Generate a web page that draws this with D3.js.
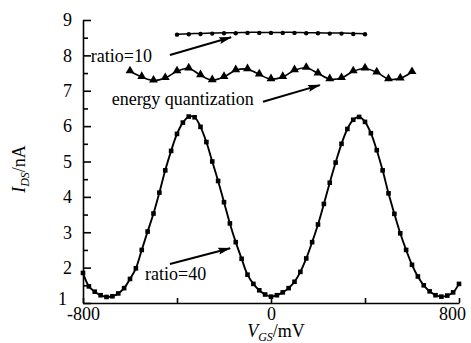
<!DOCTYPE html>
<html><head><meta charset="utf-8">
<script src="https://cdn.jsdelivr.net/npm/d3@7"></script>
<style>
body{margin:0;background:#fff}
svg{display:block}
</style>
</head><body>
<svg id="c" width="471" height="343"></svg>
<script>
// ratio=40 (squares)
const vgs40 = [-800,-775,-750,-725,-700,-675,-650,-625,-600,-575,-550,-525,-500,-475,-450,-425,-400,-375,-350,-325,-300,-275,-250,-225,-200,-175,-150,-125,-100,-75,-50,-25,0,
  25,50,75,100,125,150,175,200,225,250,275,300,325,350,375,400,425,450,475,500,525,550,575,600,625,650,675,700,725,750,775,800];
const ids40 = [1.85,1.47,1.32,1.22,1.17,1.19,1.27,1.42,1.68,1.98,2.50,3.02,3.53,4.12,4.75,5.30,5.78,6.10,6.27,6.25,5.98,5.55,5.00,4.45,3.85,3.25,2.72,2.25,1.80,1.54,1.36,1.24,1.18,
  1.22,1.30,1.42,1.60,1.88,2.26,2.72,3.22,3.80,4.40,4.97,5.50,5.92,6.18,6.26,6.12,5.80,5.32,4.75,4.10,3.52,2.97,2.50,2.08,1.75,1.50,1.33,1.22,1.18,1.21,1.30,1.54];
// energy quantization (triangles)
const vgsEQ = [-600,-550,-500,-450,-400,-350,-300,-250,-200,-150,-100,-50,0,50,100,150,200,250,300,350,400,450,500,550,600];
const idsEQ = [7.55,7.39,7.29,7.36,7.55,7.63,7.44,7.30,7.39,7.58,7.61,7.46,7.33,7.39,7.58,7.65,7.49,7.33,7.36,7.55,7.63,7.52,7.33,7.35,7.53];
// ratio=10 (dots)
const vgs10 = [-400,-350,-300,-250,-200,-150,-100,-50,0,50,100,150,200,250,300,350,400];
const ids10 = [8.60,8.61,8.62,8.63,8.64,8.64,8.65,8.65,8.65,8.65,8.65,8.64,8.64,8.63,8.63,8.62,8.61];

const xTicks = [-800,-400,0,400,800];
const xTickLabels = ["-800","","0","","800"];
const yTicks = [1,2,3,4,5,6,7,8,9];
const yMinor = [1.5,2.5,3.5,4.5,5.5,6.5,7.5,8.5];

// annotations in data units
const annoText = [
  {t:"ratio=10", x:-767, y:7.81},
  {t:"energy quantization", x:-678, y:6.59},
  {t:"ratio=40", x:-536, y:1.65}
];
const annoArrows = [
  {x1:-430, y1:8.01, x2:-170, y2:8.51},
  {x1:-34, y1:6.69, x2:208, y2:7.16},
  {x1:-430, y1:2.10, x2:-174, y2:2.55}
];

const FONT = "'Liberation Serif','DejaVu Serif','Times New Roman',serif";
const svg = d3.select("#c");
const x = d3.scaleLinear().domain([-800,800]).range([83,459]);
const y = d3.scaleLinear().domain([1,9]).range([303,20]);

svg.append("defs").append("marker")
  .attr("id","ah").attr("markerUnits","userSpaceOnUse")
  .attr("markerWidth",14).attr("markerHeight",10)
  .attr("refX",12).attr("refY",4).attr("orient","auto")
  .append("path").attr("d","M0,0.5 L13,4 L0,7.5 L2,4 Z").attr("fill","#000");

// axes
const gy = svg.append("g").attr("transform","translate(83,0)")
  .call(d3.axisLeft(y).tickValues(yTicks).tickSize(-8).tickSizeOuter(0).tickPadding(11).tickFormat(d=>String(d)));
const gym = svg.append("g").attr("transform","translate(83,0)")
  .call(d3.axisLeft(y).tickValues(yMinor).tickSize(-5).tickSizeOuter(0).tickFormat(""));
gym.select(".domain").remove();
const gx = svg.append("g").attr("transform","translate(0,303)")
  .call(d3.axisBottom(x).tickValues(xTicks).tickSize(-5).tickSizeOuter(0).tickPadding(4)
    .tickFormat((d,i)=>xTickLabels[i]));
[gy,gym,gx].forEach(g=>{
  g.attr("font-family",null).attr("font-size",null);
  g.selectAll("path,line").attr("stroke","#000").attr("stroke-width",1.6);
  g.selectAll("text").style("font-family",FONT).style("font-size","18px").attr("fill","#000");
});
gx.selectAll(".tick text").filter(d=>d===800).attr("dx",-7);
gy.selectAll(".tick text").filter(d=>d===1).attr("dx",-5).attr("dy","0.1em");

// series
const line = d3.line().x(d=>x(d[0])).y(d=>y(d[1])).curve(d3.curveCatmullRom);
const s40 = vgs40.map((v,i)=>[v,ids40[i]]);
const sEQ = vgsEQ.map((v,i)=>[v,idsEQ[i]]);
const s10 = vgs10.map((v,i)=>[v,ids10[i]]);

svg.append("path").attr("d",line(s40)).attr("fill","none").attr("stroke","#000").attr("stroke-width",1.9);
svg.append("g").selectAll("rect").data(s40).join("rect")
  .attr("x",d=>x(d[0])-2.3).attr("y",d=>y(d[1])-2.3).attr("width",4.6).attr("height",4.6).attr("fill","#000");

svg.append("path").attr("d",line(sEQ)).attr("fill","none").attr("stroke","#000").attr("stroke-width",1.6);
svg.append("g").selectAll("path").data(sEQ).join("path")
  .attr("d",d3.symbol(d3.symbolTriangle,34))
  .attr("transform",d=>`translate(${x(d[0])},${y(d[1])-0.5})`).attr("fill","#000");

svg.append("path").attr("d",line(s10)).attr("fill","none").attr("stroke","#000").attr("stroke-width",1.5);
svg.append("g").selectAll("circle").data(s10).join("circle")
  .attr("cx",d=>x(d[0])).attr("cy",d=>y(d[1])+0.5).attr("r",2.2).attr("fill","#000");

// annotations
svg.append("g").selectAll("text").data(annoText).join("text")
  .attr("x",d=>x(d.x)).attr("y",d=>y(d.y))
  .style("font-family",FONT).style("font-size","18px").text(d=>d.t);
svg.append("g").selectAll("line").data(annoArrows).join("line")
  .attr("x1",d=>x(d.x1)).attr("y1",d=>y(d.y1)).attr("x2",d=>x(d.x2)).attr("y2",d=>y(d.y2))
  .attr("stroke","#000").attr("stroke-width",2).attr("marker-end","url(#ah)");

// axis titles
const ty = svg.append("text").attr("transform","translate(25,169) rotate(-90)")
  .attr("text-anchor","middle").style("font-family",FONT).style("font-size","18px");
ty.append("tspan").attr("font-style","italic").text("I");
ty.append("tspan").attr("font-style","italic").attr("dy",4).style("font-size","12px").text("DS");
ty.append("tspan").attr("dy",-4).text("/nA");

const tx = svg.append("text").attr("x",276).attr("y",337)
  .attr("text-anchor","middle").style("font-family",FONT).style("font-size","18px");
tx.append("tspan").attr("font-style","italic").text("V");
tx.append("tspan").attr("font-style","italic").attr("dy",3.5).style("font-size","12px").text("GS");
tx.append("tspan").attr("dy",-3.5).text("/mV");
</script>
</body></html>
